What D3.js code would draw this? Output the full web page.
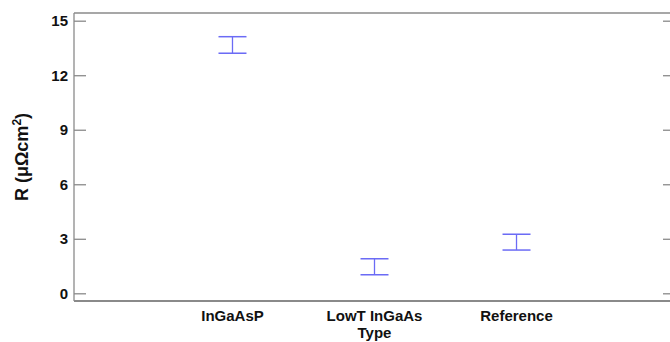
<!DOCTYPE html>
<html>
<head>
<meta charset="utf-8">
<script src="https://cdn.jsdelivr.net/npm/d3@7"></script>
<style>
  body { margin: 0; background: #fff; }
  text { font-family: "Liberation Sans", Arial, sans-serif; font-weight: bold; fill: #111; }
</style>
</head>
<body>
<svg id="chart" width="670" height="342"></svg>
<script>
const categories = ["InGaAsP", "LowT InGaAs", "Reference"];
const positions = [1, 2, 3];
const upperValues = [14.12, 1.90, 3.25];
const lowerValues = [13.21, 1.02, 2.38];
const yTicks = [0, 3, 6, 9, 12, 15];
const xTitle = "Type";

(function () {
const svg = d3.select("#chart");
const mLeft = 74, mRight = 675, mTop = 13, mBottom = 301;

const x = d3.scaleLinear().domain([-0.116, 4.116]).range([mLeft, mRight]);
const y = d3.scaleLinear().domain([0, 15]).range([293.3, 20.7]);

// frame
svg.append("line").attr("x1", mLeft).attr("x2", mRight).attr("y1", mTop).attr("y2", mTop)
  .attr("stroke", "#8a8a8a").attr("stroke-width", 1.5);
svg.append("line").attr("x1", mLeft).attr("x2", mLeft).attr("y1", mTop).attr("y2", mBottom)
  .attr("stroke", "#8a8a8a").attr("stroke-width", 1.3);
svg.append("line").attr("x1", mLeft).attr("x2", mRight).attr("y1", mBottom).attr("y2", mBottom)
  .attr("stroke", "#8a8a8a").attr("stroke-width", 2);

// left axis (ticks inward)
const yAxisL = svg.append("g").attr("transform", `translate(${mLeft},0)`)
  .call(d3.axisRight(y).tickValues(yTicks).tickSize(12).tickFormat(""));
yAxisL.select(".domain").remove();
yAxisL.selectAll(".tick line").attr("stroke", "#8a8a8a").attr("stroke-width", 1.3);

yTicks.forEach(t => {
  svg.append("text").attr("x", 68).attr("y", y(t)).attr("dy", "0.36em")
    .attr("text-anchor", "end").attr("font-size", 15).text(t);
});

// right axis ticks inward
const yAxisR = svg.append("g").attr("transform", `translate(${mRight},0)`)
  .call(d3.axisLeft(y).tickValues(yTicks).tickSize(12).tickFormat(""));
yAxisR.select(".domain").remove();
yAxisR.selectAll(".tick line").attr("stroke", "#8a8a8a").attr("stroke-width", 1.3);

// x labels
categories.forEach((c, i) => {
  svg.append("text").attr("x", x(positions[i])).attr("y", 321)
    .attr("text-anchor", "middle").attr("font-size", 15).text(c);
});
svg.append("text").attr("x", x(2)).attr("y", 338)
  .attr("text-anchor", "middle").attr("font-size", 15).text(xTitle);

// y title
const yt = svg.append("text").attr("transform", "translate(28,157) rotate(-90)")
  .attr("text-anchor", "middle").attr("font-size", 18);
yt.append("tspan").text("R (μΩcm");
yt.append("tspan").attr("font-size", 12).attr("dy", -7).text("2");
yt.append("tspan").attr("dy", 7).text(")");

// error bars
const col = "#6b6bf5";
const capW = 14;
const g = svg.append("g");
categories.forEach((c, i) => {
  const cx = x(positions[i]);
  g.append("line").attr("x1", cx).attr("x2", cx).attr("y1", y(upperValues[i])).attr("y2", y(lowerValues[i]))
    .attr("stroke", col).attr("stroke-width", 1.3);
  [upperValues[i], lowerValues[i]].forEach(v => {
    g.append("line").attr("x1", cx - capW).attr("x2", cx + capW).attr("y1", y(v)).attr("y2", y(v))
      .attr("stroke", col).attr("stroke-width", 1.5);
  });
});
})();
</script>
</body>
</html>
